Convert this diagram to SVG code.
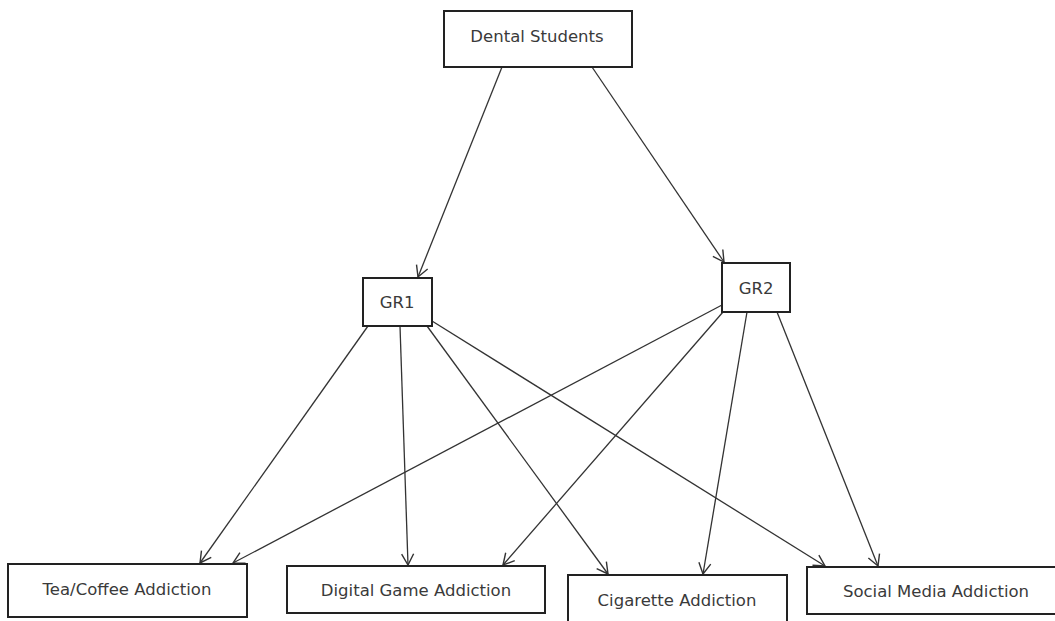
<svg xmlns="http://www.w3.org/2000/svg" width="1055" height="621" viewBox="0 0 1055 621">
<style>
.box{fill:#fff;stroke:#222;stroke-width:2}
.lbl{font-family:"DejaVu Sans",sans-serif;font-size:16.5px;fill:#3a3a3a;text-anchor:middle;dominant-baseline:central}
.edge{stroke:#333;stroke-width:1.3;fill:none;marker-end:url(#arr)}
</style>
<defs>
<marker id="arr" markerUnits="userSpaceOnUse" markerWidth="16" markerHeight="16" refX="12" refY="6" orient="auto" viewBox="0 0 16 12">
<path d="M1,0 L12,6 L1,12" fill="none" stroke="#333" stroke-width="1.4"/>
</marker>
</defs>
<rect width="1055" height="621" fill="#fff"/>
<g id="connectors">
<line class="edge" x1="502" y1="67" x2="418" y2="277"/>
<line class="edge" x1="592" y1="67" x2="724" y2="262"/>
<line class="edge" x1="368" y1="326" x2="200" y2="563"/>
<line class="edge" x1="400" y1="326" x2="408" y2="565"/>
<line class="edge" x1="427" y1="326" x2="608" y2="574"/>
<line class="edge" x1="432" y1="321" x2="825" y2="566"/>
<line class="edge" x1="722" y1="305" x2="233" y2="563"/>
<line class="edge" x1="723" y1="312" x2="503" y2="565"/>
<line class="edge" x1="747" y1="312" x2="703" y2="574"/>
<line class="edge" x1="777" y1="312" x2="878" y2="566"/>
</g>
<g id="dental">
<rect class="box" x="444" y="11" width="188" height="56"/>
<text class="lbl" x="537" y="36">Dental Students</text>
</g>
<g id="gr1">
<rect class="box" x="363" y="278" width="69" height="48"/>
<text class="lbl" x="397" y="302">GR1</text>
</g>
<g id="gr2">
<rect class="box" x="722" y="263" width="68" height="49"/>
<text class="lbl" x="756" y="288">GR2</text>
</g>
<g id="tea">
<rect class="box" x="8" y="564" width="239" height="53"/>
<text class="lbl" x="127" y="589">Tea/Coffee Addiction</text>
</g>
<g id="digital">
<rect class="box" x="287" y="566" width="258" height="47"/>
<text class="lbl" x="416" y="590">Digital Game Addiction</text>
</g>
<g id="cigarette">
<rect class="box" x="568" y="575" width="219" height="60"/>
<text class="lbl" x="677" y="600">Cigarette Addiction</text>
</g>
<g id="social">
<rect class="box" x="807" y="567" width="260" height="47"/>
<text class="lbl" x="936" y="591">Social Media Addiction</text>
</g>
</svg>
